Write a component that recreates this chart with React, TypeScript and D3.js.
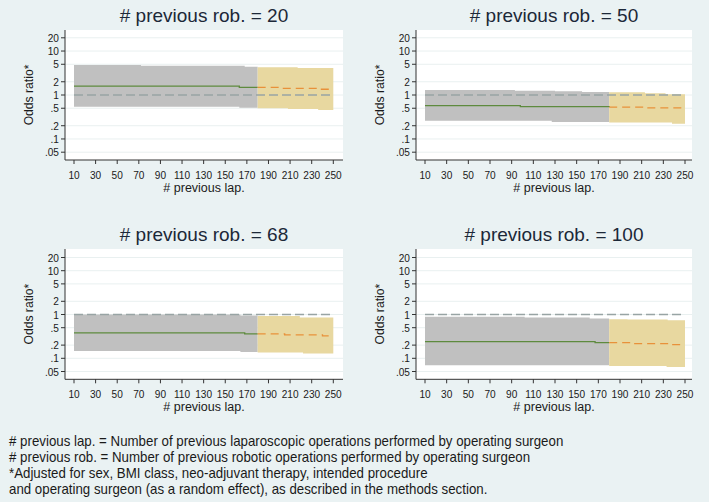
import React from "react";
import * as d3 from "d3";

const W = 709;
const H = 502;

const xTicks = [10, 30, 50, 70, 90, 110, 130, 150, 170, 190, 210, 230, 250];
const yTicks = [0.05, 0.1, 0.2, 0.5, 1, 2, 5, 10, 20];
const yTickLabels = [".05", ".1", ".2", ".5", "1", "2", "5", "10", "20"];
const lapStart = 10;
const lapSplit = 180;
const lapEnd = 250;
const refOR = 1;

const panelTitles = [
  "# previous rob. = 20",
  "# previous rob. = 50",
  "# previous rob. = 68",
  "# previous rob. = 100",
];

// [previous lap., odds ratio] step points
const est20 = [[10, 1.6], [163, 1.49], [200, 1.42], [236, 1.35], [250, 1.35]];
const lo20 = [[10, 0.543], [163, 0.515], [180, 0.498], [208, 0.481], [236, 0.456], [250, 0.456]];
const hi20 = [[10, 4.8], [72, 4.64], [168, 4.4], [180, 4.25], [217, 4.11], [250, 4.11]];

const est50 = [[10, 0.572], [98, 0.543], [180, 0.53], [213, 0.507], [250, 0.507]];
const lo50 = [[10, 0.261], [127, 0.243], [180, 0.238], [238, 0.223], [250, 0.223]];
const hi50 = [[10, 1.3], [93, 1.25], [130, 1.21], [155, 1.17], [180, 1.15], [213, 1.09], [232, 1.04], [250, 1.04]];

const est68 = [[10, 0.381], [168, 0.361], [205, 0.343], [240, 0.325], [250, 0.325]];
const lo68 = [[10, 0.147], [164, 0.14], [180, 0.135], [222, 0.128], [250, 0.128]];
const hi68 = [[10, 1.0], [164, 0.95], [180, 0.92], [219, 0.857], [250, 0.857]];

const est100 = [[10, 0.241], [167, 0.229], [202, 0.217], [237, 0.206], [250, 0.206]];
const lo100 = [[10, 0.069], [180, 0.0667], [233, 0.0633], [250, 0.0633]];
const hi100 = [[10, 0.887], [102, 0.857], [162, 0.813], [180, 0.784], [197, 0.77], [234, 0.744], [250, 0.744]];

const footnotes = [
  "# previous lap. = Number of previous laparoscopic operations performed by operating surgeon",
  "# previous rob. = Number of previous robotic operations performed by operating surgeon",
  "*Adjusted for sex, BMI class, neo-adjuvant therapy, intended procedure",
  "and operating surgeon (as a random effect), as described in the methods section.",
];

const panelData = [
  { est: est20, lo: lo20, hi: hi20 },
  { est: est50, lo: lo50, hi: hi50 },
  { est: est68, lo: lo68, hi: hi68 },
  { est: est100, lo: lo100, hi: hi100 },
];

const layouts = [
  { ax: 65, right: 343, top: 30, bottom: 160, x10: 74, x250: 333.3, y05: 152.2, y20: 37.8 },
  { ax: 416, right: 692, top: 30, bottom: 160, x10: 425, x250: 685, y05: 152.2, y20: 37.8 },
  { ax: 65, right: 343, top: 249, bottom: 379.3, x10: 74, x250: 333.3, y05: 371.5, y20: 257.5 },
  { ax: 416, right: 692, top: 249, bottom: 379.3, x10: 425, x250: 685, y05: 371.5, y20: 257.5 },
];

const BG = "#eaf2f3";
const FONT = "'Liberation Sans', Arial, sans-serif";
const TXT = "#1a1a1a";

function stepVal(arr: number[][], l: number) {
  let v = arr[0][1];
  for (const [a, b] of arr) if (a <= l) v = b;
  return v;
}

function breaks(arrs: number[][][], a: number, b: number) {
  const s = new Set<number>([a, b]);
  arrs.forEach((arr) => arr.forEach(([l]) => { if (l > a && l < b) s.add(l); }));
  return Array.from(s).sort((p, q) => p - q);
}

function Panel({ i }: { i: number }) {
  const L = layouts[i];
  const { est, lo, hi } = panelData[i];
  const x = d3.scaleLinear().domain([lapStart, lapEnd]).range([L.x10, L.x250]);
  const y = d3.scaleLog().domain([0.05, 20]).range([L.y05, L.y20]);

  const band = (a: number, b: number) =>
    breaks([lo, hi], a, b).map((l) => ({ l, lo: stepVal(lo, l), hi: stepVal(hi, l) }));
  const estPts = (a: number, b: number) =>
    breaks([est], a, b).map((l) => ({ l, v: stepVal(est, l) }));

  const area = d3
    .area<any>()
    .x((d) => x(d.l))
    .y0((d) => y(d.lo))
    .y1((d) => y(d.hi))
    .curve(d3.curveStepAfter);
  const line = d3
    .line<any>()
    .x((d) => x(d.l))
    .y((d) => y(d.v))
    .curve(d3.curveStepAfter);

  const cx = (L.ax + L.right) / 2;
  return (
    <g>
      <rect x={L.ax} y={L.top} width={L.right - L.ax} height={L.bottom - L.top} fill="#ffffff" />
      {yTicks.map((t) => (
        <line key={"g" + t} x1={L.ax} x2={L.right} y1={y(t)} y2={y(t)} stroke="#e9f0f0" strokeWidth={1} />
      ))}
      <path d={area(band(lapStart, lapSplit)) || ""} fill="#c0c0c0" />
      <path d={area(band(lapSplit, lapEnd)) || ""} fill="#e8d8a0" />
      <line
        x1={x(lapStart)}
        x2={x(lapEnd)}
        y1={y(refOR)}
        y2={y(refOR)}
        stroke="#98a4a4"
        strokeWidth={1.5}
        strokeDasharray="9,4"
      />
      <path d={line(estPts(lapStart, lapSplit)) || ""} fill="none" stroke="#5e8a3e" strokeWidth={1.3} />
      <path
        d={line(estPts(lapSplit, lapEnd)) || ""}
        fill="none"
        stroke="#e8913a"
        strokeWidth={1.3}
        strokeDasharray="8,5"
      />
      {/* y axis */}
      <line x1={L.ax} x2={L.ax} y1={L.top} y2={L.bottom} stroke="#333" strokeWidth={1} />
      {yTicks.map((t, k) => (
        <g key={"y" + t}>
          <line x1={L.ax - 4} x2={L.ax} y1={y(t)} y2={y(t)} stroke="#333" strokeWidth={1} />
          <text
            transform={`translate(${L.ax - 6},${y(t)}) scale(0.88,1)`}
            dy="0.36em"
            textAnchor="end"
            fontSize={11.5}
            fontFamily={FONT}
            fill={TXT}
          >
            {yTickLabels[k]}
          </text>
        </g>
      ))}
      {/* x axis */}
      <line x1={L.ax} x2={L.right} y1={L.bottom} y2={L.bottom} stroke="#333" strokeWidth={1} />
      {xTicks.map((t) => (
        <g key={"x" + t}>
          <line x1={x(t)} x2={x(t)} y1={L.bottom} y2={L.bottom + 4} stroke="#333" strokeWidth={1} />
          <text
            transform={`translate(${x(t)},${L.bottom + 19}) scale(0.88,1)`}
            textAnchor="middle"
            fontSize={11.5}
            fontFamily={FONT}
            fill={TXT}
          >
            {t}
          </text>
        </g>
      ))}
      <text x={cx} y={L.bottom + 32} textAnchor="middle" fontSize={12.5} fontFamily={FONT} fill={TXT}>
        # previous lap.
      </text>
      <text
        transform={`translate(${L.ax - 37},${(L.top + L.bottom) / 2}) rotate(-90) scale(0.9,1)`}
        dy="0.35em"
        textAnchor="middle"
        fontSize={13.5}
        fontFamily={FONT}
        fill={TXT}
      >
        Odds ratio*
      </text>
      <text x={cx} y={L.top - 8} textAnchor="middle" fontSize={19} fontFamily={FONT} fill="#1c2838">
        {panelTitles[i]}
      </text>
    </g>
  );
}

export default function App() {
  return (
    <svg
      width={W}
      height={H}
      viewBox={`0 0 ${W} ${H}`}
      style={{ position: "absolute", left: 0, top: 0, display: "block" }}
    >
      <rect x={0} y={0} width={W} height={H} fill={BG} />
      {[0, 1, 2, 3].map((i) => (
        <Panel key={i} i={i} />
      ))}
      {footnotes.map((f, k) => (
        <text
          key={k}
          transform={`translate(9,${446 + k * 16}) scale(0.95,1)`}
          fontSize={14}
          fontFamily={FONT}
          fill={TXT}
        >
          {f}
        </text>
      ))}
    </svg>
  );
}
